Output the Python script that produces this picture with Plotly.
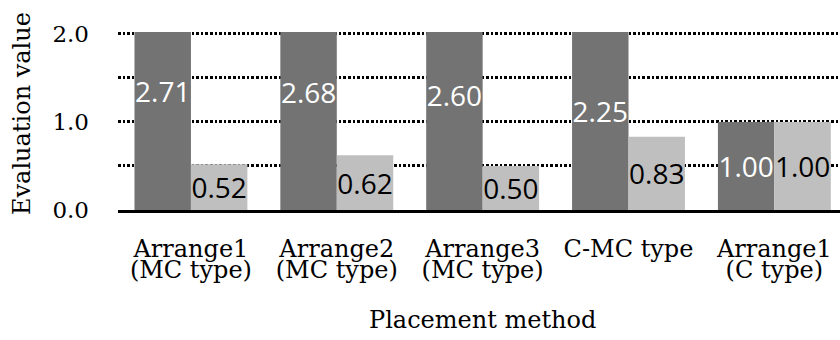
import plotly.graph_objects as go

# Placement methods (two-line category labels)
methods_top = ["Arrange1", "Arrange2", "Arrange3", "C-MC type", "Arrange1"]
methods_bottom = ["(MC type)", "(MC type)", "(MC type)", "", "(C type)"]

# Evaluation values for the two series
series_dark = [2.71, 2.68, 2.60, 2.25, 1.00]
series_light = [0.52, 0.62, 0.50, 0.83, 1.00]

# Value axis ticks
y_tickvals = [0.0, 0.5, 1.0, 1.5, 2.0]
y_ticktext = ["0.0", "", "1.0", "", "2.0"]

positions = list(range(len(methods_top)))
x_range = [-0.5, 4.45]
# a little headroom so the gridline at 2.0 is kept
y_range = [0, 2.02]

serif = "DejaVu Serif"
sans = "Open Sans"

fig = go.Figure()
fig.add_trace(go.Bar(
    x=positions, y=series_dark,
    marker=dict(color="#737373", line=dict(width=0)),
    text=[f"{v:.2f}" for v in series_dark],
    textposition="inside", insidetextanchor="middle",
    textangle=0, constraintext="none",
    textfont=dict(family=sans, size=28, color="white"),
    hoverinfo="skip",
))
fig.add_trace(go.Bar(
    x=positions, y=series_light,
    marker=dict(color="#bfbfbf", line=dict(width=0)),
    text=[f"{v:.2f}" for v in series_light],
    textposition="inside", insidetextanchor="middle",
    textangle=0, constraintext="none",
    textfont=dict(family=sans, size=28, color="black"),
    hoverinfo="skip",
))
# carrier for the second row of category labels
fig.add_trace(go.Scatter(x=[], y=[], xaxis="x2", yaxis="y",
                         showlegend=False, hoverinfo="skip"))

fig.update_layout(
    width=840, height=340,
    margin=dict(l=118, r=0, t=32, b=130),
    paper_bgcolor="white", plot_bgcolor="white",
    barmode="group", bargap=0.226, bargroupgap=0,
    showlegend=False,
    xaxis=dict(
        range=x_range, tickvals=positions, ticktext=methods_top,
        tickfont=dict(family=serif, size=24, color="black"),
        showgrid=False, zeroline=False, ticks="",
        showline=True, linecolor="black", linewidth=2.5,
        ticklabelstandoff=15, ticklabeloverflow="allow",
    ),
    xaxis2=dict(
        overlaying="x", anchor="y", side="bottom",
        range=x_range, tickvals=positions, ticktext=methods_bottom,
        tickfont=dict(family=serif, size=24, color="black"),
        showgrid=False, zeroline=False, ticks="", showline=False,
        ticklabelstandoff=43, ticklabeloverflow="allow",
    ),
    yaxis=dict(
        range=y_range, tickvals=y_tickvals, ticktext=y_ticktext,
        tickfont=dict(family=serif, size=23, color="black"),
        showgrid=True, gridcolor="black", gridwidth=2.7, griddash="2.6px,2px",
        zeroline=False, showline=False, ticks="",
        ticklabelstandoff=28,
    ),
    annotations=[
        dict(text="Evaluation value", textangle=-90,
             xref="paper", yref="paper", x=-0.133, y=0.545,
             xanchor="center", yanchor="middle", showarrow=False,
             font=dict(family=serif, size=24, color="black")),
        dict(text="Placement method",
             xref="paper", yref="paper", x=0.5055, y=-0.62,
             xanchor="center", yanchor="middle", showarrow=False,
             font=dict(family=serif, size=24, color="black")),
    ],
)

fig.write_html("out.html")
